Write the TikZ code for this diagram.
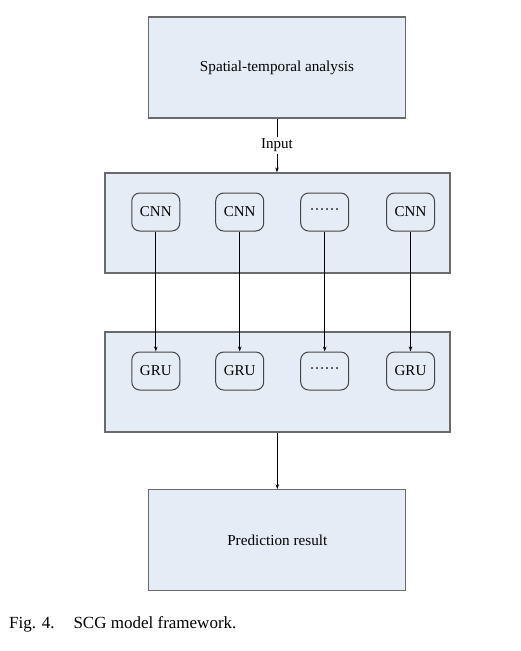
\documentclass[tikz,border=0pt]{standalone}
\usepackage{fontspec}
\setmainfont{Liberation Serif}
\usetikzlibrary{arrows.meta}
\definecolor{boxfill}{HTML}{E6ECF6}
\definecolor{boxline}{HTML}{6A6A6A}
\definecolor{nodeline}{HTML}{454545}
\begin{document}
\begin{tikzpicture}[x=1pt,y=-1pt,
  bigbox/.style={draw=boxline,line width=1.3pt,fill=boxfill,inner sep=0pt,font=\fontsize{15.2}{18}\selectfont},
  unit/.style={draw=nodeline,line width=1pt,rounded corners=8pt,fill=boxfill,minimum width=48pt,minimum height=38pt,inner sep=0pt,font=\fontsize{15}{18}\selectfont},
  conn/.style={line width=0.8pt,-{Stealth[length=5pt,width=3.5pt]}},
  plain/.style={line width=0.8pt}]
\useasboundingbox (0,0) rectangle (520,651);
\fill[white] (0,0) rectangle (520,651);

\node[bigbox,minimum width=257pt,minimum height=101pt] (top) at (277,67.5) {Spatial-temporal analysis};
\node[bigbox,minimum width=345pt,minimum height=100pt] (cnnbox) at (277.5,223) {};
\node[bigbox,minimum width=345pt,minimum height=100pt] (grubox) at (277.5,382) {};
\node[bigbox,minimum width=257pt,minimum height=101pt] (pred) at (277.3,540.3) {Prediction result};

\node[font=\fontsize{15}{18}\selectfont,inner sep=1.5pt] (inp) at (277,145.5) {Input};

\node[unit] (c1) at (155.8,212) {CNN};
\node[unit] (c2) at (239.7,212) {CNN};
\node[unit] (c3) at (324.7,212) {······};
\node[unit] (c4) at (410.5,212) {CNN};

\node[unit] (g1) at (155.8,371) {GRU};
\node[unit] (g2) at (239.7,371) {GRU};
\node[unit] (g3) at (324.7,371) {······};
\node[unit] (g4) at (410.5,371) {GRU};

\draw[plain] (top.south) -- (inp.north);
\draw[conn] (inp.south) -- (inp.south |- cnnbox.north);
\foreach \i in {1,2,3,4}{\draw[conn] (c\i.south) -- (g\i.north);}
\draw[conn] (grubox.south -| pred.north) -- (pred.north);

\node[anchor=west,inner sep=0pt,font=\fontsize{17}{20}\selectfont] (cap) at (9,624) {Fig. 4.\hspace{19pt}SCG model framework.};
\end{tikzpicture}
\end{document}
